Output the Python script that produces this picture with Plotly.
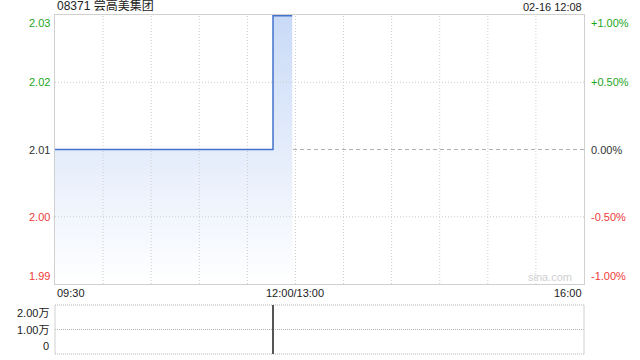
import plotly.graph_objects as go

# ---- data ----
title_text = "08371 尝高美集团"
stamp_text = "02-16 12:08"
prev_close = 2.01
# minute index since 09:30 (trading minutes, lunch break removed)
price_minutes = list(range(0, 149))
price_values = [2.01] * 136 + [2.03] * 13
vol_minutes = [136]
vol_values = [20000]
x_tick_pos = [0, 150, 330]
x_tick_labels = ["09:30", "12:00/13:00", "16:00"]
price_tick_labels = ["2.03", "2.02", "2.01", "2.00", "1.99"]
pct_tick_labels = ["+1.00%", "+0.50%", "0.00%", "-0.50%", "-1.00%"]
pct_levels = [0.01, 0.005, 0.0, -0.005, -0.01]
vol_tick_vals = [20000, 10000, 0]
vol_tick_labels = ["2.00万", "1.00万", "0"]

GREEN = "#1ea51e"
RED = "#f03a3a"
DARK = "#333333"
GRID = "#cdcdcd"
FONT = "Liberation Sans, Arial, Noto Sans CJK SC, sans-serif"

ymin = prev_close * (1 + min(pct_levels))
ymax = prev_close * (1 + max(pct_levels))
total_min = 330
grid_minutes = list(range(30, total_min, 30))

fig = go.Figure()
fig.add_trace(go.Scatter(
    x=price_minutes, y=price_values, mode="lines", line=dict(color="#4472cc", width=1.5, shape="hv"),
    fill="tozeroy",
    fillgradient=dict(type="vertical", start=ymin, stop=ymax,
                      colorscale=[[0, "rgba(255,255,255,1)"], [1, "#c9daf7"]]),
    xaxis="x", yaxis="y", hoverinfo="skip", showlegend=False))
fig.add_trace(go.Bar(
    x=vol_minutes, y=vol_values, marker=dict(color="#555555", line=dict(width=0)), width=0.45,
    xaxis="x2", yaxis="y2", hoverinfo="skip", showlegend=False))

main_bottom = (354 - 284) / 339
vol_top = (354 - 305) / 339

fig.update_layout(
    width=640, height=360,
    margin=dict(l=55, r=56, t=15, b=6),
    paper_bgcolor="white", plot_bgcolor="white",
    font=dict(family=FONT, size=11, color=DARK),
    xaxis=dict(domain=[0, 1], range=[0, total_min], showticklabels=False, showgrid=False,
               zeroline=False, showline=True, mirror=True, linecolor="#d0d0d0", linewidth=1,
               anchor="y", fixedrange=True),
    yaxis=dict(domain=[main_bottom, 1], range=[ymin, ymax],
               showticklabels=False, showgrid=False, zeroline=False,
               showline=True, mirror=True, linecolor="#d0d0d0", linewidth=1, anchor="x"),
    xaxis2=dict(domain=[0, 1], range=[0, total_min], showticklabels=False, showgrid=False,
                zeroline=False, showline=False, anchor="y2"),
    yaxis2=dict(domain=[0, vol_top], range=[0, max(vol_tick_vals)],
                showticklabels=False, showgrid=False, zeroline=False, showline=False, anchor="x2"),
    bargap=0,
)

shapes = []
# previous close dashed
shapes.append(dict(type="line", xref="x domain", yref="y", x0=0, x1=1, y0=prev_close, y1=prev_close,
                   line=dict(color="#b0b0b0", width=1, dash="4px,3px"), layer="below"))
# vertical dotted grid
for m in grid_minutes:
    shapes.append(dict(type="line", xref="x", yref="y domain", x0=m, x1=m, y0=0, y1=1,
                       line=dict(color=GRID, width=1, dash="1px,2px"), layer="above"))
# horizontal dotted grid at +/-0.5%
for p in pct_levels:
    if abs(p) == 0.005:
        shapes.append(dict(type="line", xref="x domain", yref="y", x0=0, x1=1,
                           y0=prev_close * (1 + p), y1=prev_close * (1 + p),
                           line=dict(color=GRID, width=1, dash="1px,2px"), layer="above"))
# volume panel grid (top and bottom edges drawn in paper coords so they are not clipped)
for vv in vol_tick_vals:
    frac = vv / max(vol_tick_vals)
    shapes.append(dict(type="line", xref="x2 domain", yref="paper", x0=0, x1=1,
                       y0=frac * vol_top, y1=frac * vol_top,
                       line=dict(color="#b4b4b4", width=1, dash="1px,1px"), layer="below"))
# volume panel side borders
for xv in [0, 1]:
    shapes.append(dict(type="line", xref="x2 domain", yref="paper", x0=xv, x1=xv, y0=0, y1=vol_top,
                       line=dict(color="#d0d0d0", width=1)))
fig.update_layout(shapes=shapes)

ann = []
ann.append(dict(text=title_text, xref="paper", yref="paper", x=0, y=1, xanchor="left", yanchor="bottom",
                showarrow=False, font=dict(size=12, color="#222222")))
ann.append(dict(text=stamp_text, xref="paper", yref="paper", x=1, y=1, xanchor="right", yanchor="bottom",
                showarrow=False, font=dict(size=11, color="#222222")))
n = len(pct_levels)
for i, (p, pl, ql) in enumerate(zip(pct_levels, price_tick_labels, pct_tick_labels)):
    col = GREEN if p > 0 else (RED if p < 0 else DARK)
    ya = "middle"
    if i == 0:
        ya = "top"
    elif i == n - 1:
        ya = "bottom"
    yv = prev_close * (1 + p)
    ann.append(dict(text=pl, xref="paper", yref="y", x=0, y=yv, xanchor="right", yanchor=ya,
                    xshift=-3, showarrow=False, font=dict(size=11, color=col)))
    ann.append(dict(text=ql, xref="paper", yref="y", x=1, y=yv, xanchor="left", yanchor=ya,
                    xshift=5, showarrow=False, font=dict(size=11, color=col)))
anchors = ["left", "center", "right"]
for xp, lab, xa in zip(x_tick_pos, x_tick_labels, anchors):
    ann.append(dict(text=lab, xref="x", yref="paper", x=xp, y=main_bottom, xanchor=xa, yanchor="top",
                    yshift=-1, showarrow=False, font=dict(size=11, color="#222222")))
for i, (vv, vl) in enumerate(zip(vol_tick_vals, vol_tick_labels)):
    ya = "top" if i == 0 else ("bottom" if i == len(vol_tick_vals) - 1 else "middle")
    ann.append(dict(text=vl, xref="paper", yref="y2", x=0, y=vv, xanchor="right", yanchor=ya,
                    xshift=-4, showarrow=False, font=dict(size=11, color="#222222")))
ann.append(dict(text="sina.com", xref="paper", yref="y", x=1, y=ymin, xanchor="right", yanchor="bottom",
                xshift=-10, yshift=-1, showarrow=False, font=dict(size=11, color="#cfcfcf")))
fig.update_layout(annotations=ann)

fig.write_html("out.html")
